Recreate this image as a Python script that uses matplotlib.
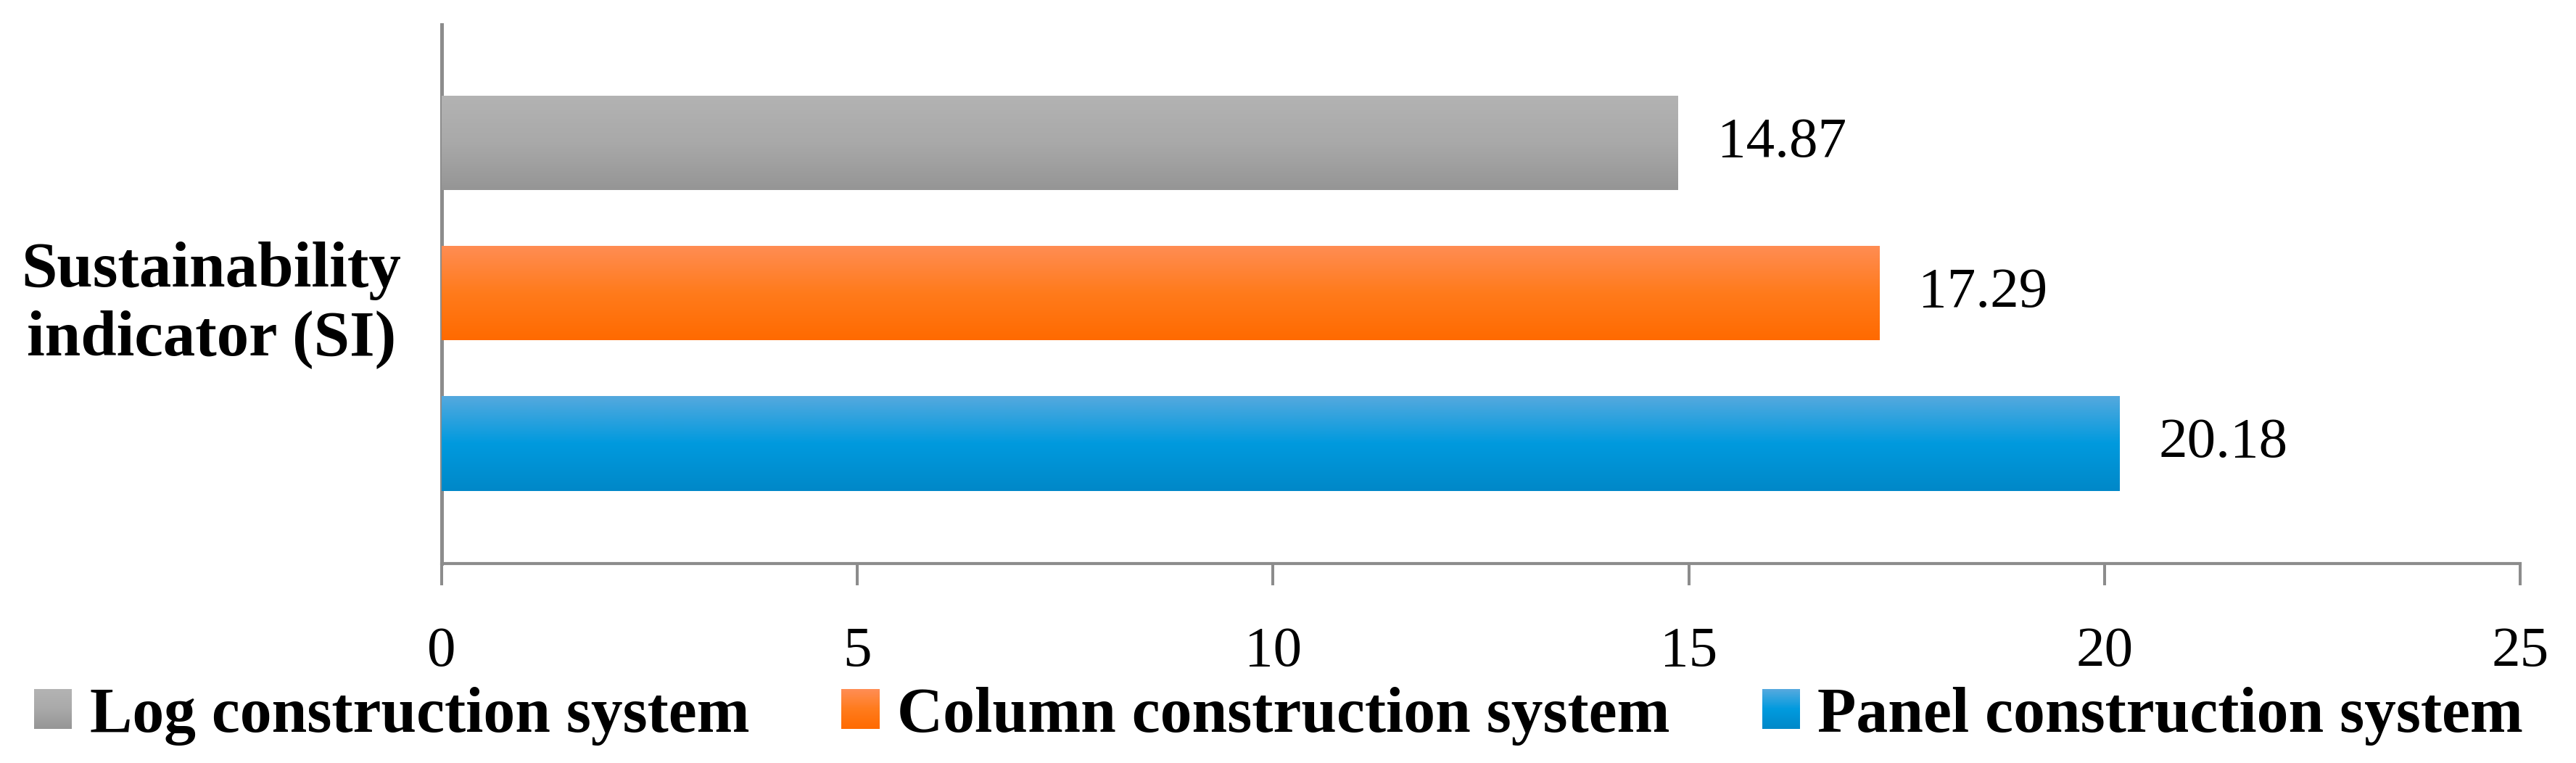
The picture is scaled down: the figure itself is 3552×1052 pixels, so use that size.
import matplotlib
matplotlib.use("Agg")
import matplotlib.pyplot as plt
import numpy as np
from matplotlib.patches import Rectangle
from matplotlib.legend_handler import HandlerBase
from matplotlib.colors import to_rgb

# ---- data ----
category = "Sustainability\nindicator (SI)"
series = ["Log construction system", "Column construction system", "Panel construction system"]
values = [14.87, 17.29, 20.18]
xticks = [0, 5, 10, 15, 20, 25]

# gradient colours (top, middle, bottom) per series
grad_colors = [
    ["#b3b3b3", "#a9a9a9", "#959595"],
    ["#ff8d54", "#ff7b1c", "#ff6a00"],
    ["#55a9de", "#009ade", "#0088c8"],
]

plt.rcParams["font.family"] = ["Liberation Serif", "DejaVu Serif"]

fig = plt.figure(figsize=(35.52, 10.52), dpi=100)
ax = fig.add_axes([609 / 3552, 1 - 777 / 1052, (3475 - 609) / 3552, (777 - 34) / 1052])

ypos = [2, 1, 0]
bar_h = 0.63


def gradient_array(cols, n=256):
    stops = np.array([to_rgb(c) for c in cols])
    t = np.linspace(0, 1, n)
    sp = np.linspace(0, 1, len(cols))
    arr = np.stack([np.interp(t, sp, stops[:, k]) for k in range(3)], axis=1)
    return arr[:, None, :]


bars = ax.barh(ypos, values, height=bar_h, color=[g[1] for g in grad_colors],
               edgecolor="none", zorder=2)
for bar, cols, v, y in zip(bars, grad_colors, values, ypos):
    im = ax.imshow(gradient_array(cols), extent=(0, v, y - bar_h / 2, y + bar_h / 2),
                   aspect="auto", origin="upper", zorder=3, interpolation="bilinear")
    im.set_clip_path(bar)
    ax.annotate(f"{v:.2f}", xy=(v, y), xytext=(39, 0), textcoords="offset points",
                ha="left", va="center", fontsize=57, color="black")

ax.set_xlim(0, 25)
ax.set_ylim(-0.80, 2.787)
ax.set_aspect("auto")
ax.set_xticks(xticks)
ax.set_xticklabels([str(t) for t in xticks], fontsize=57)
ax.set_yticks([1.0])
ax.set_yticklabels([category], fontsize=64, fontweight="bold", multialignment="center",
                   linespacing=1.22)

for s in ["top", "right"]:
    ax.spines[s].set_visible(False)
ax.spines["left"].set_color("#8c8c8c")
ax.spines["left"].set_linewidth(3.6)
ax.spines["bottom"].set_color("#8c8c8c")
ax.spines["bottom"].set_linewidth(3.0)
ax.tick_params(axis="x", direction="out", length=21.6, width=2.9, color="#8c8c8c", pad=41)
ax.tick_params(axis="y", length=0, pad=40)


class GradientHandler(HandlerBase):
    def __init__(self, cols):
        super().__init__()
        self.cols = cols

    def create_artists(self, legend, orig_handle, xdescent, ydescent, width, height, fontsize, trans):
        arr = gradient_array(self.cols, n=40)[:, 0, :]
        n = len(arr)
        arts = []
        for i in range(n):
            r = Rectangle((-xdescent, -ydescent + height * (1 - (i + 1) / n)), width, height / n * 1.05,
                          facecolor=arr[i], edgecolor="none", transform=trans)
            arts.append(r)
        return arts


handles = [Rectangle((0, 0), 1, 1) for _ in series]
hmap = {h: GradientHandler(c) for h, c in zip(handles, grad_colors)}
leg = fig.legend(handles, series, handler_map=hmap, loc="center",
                 bbox_to_anchor=(1763 / 3552, 1 - 987 / 1052), ncol=3, frameon=False,
                 prop={"size": 63, "weight": "bold"}, handlelength=0.6, handleheight=0.6,
                 handletextpad=0.28, columnspacing=1.45, borderpad=0, borderaxespad=0)

fig.savefig("out.png", dpi=100, facecolor="white")
